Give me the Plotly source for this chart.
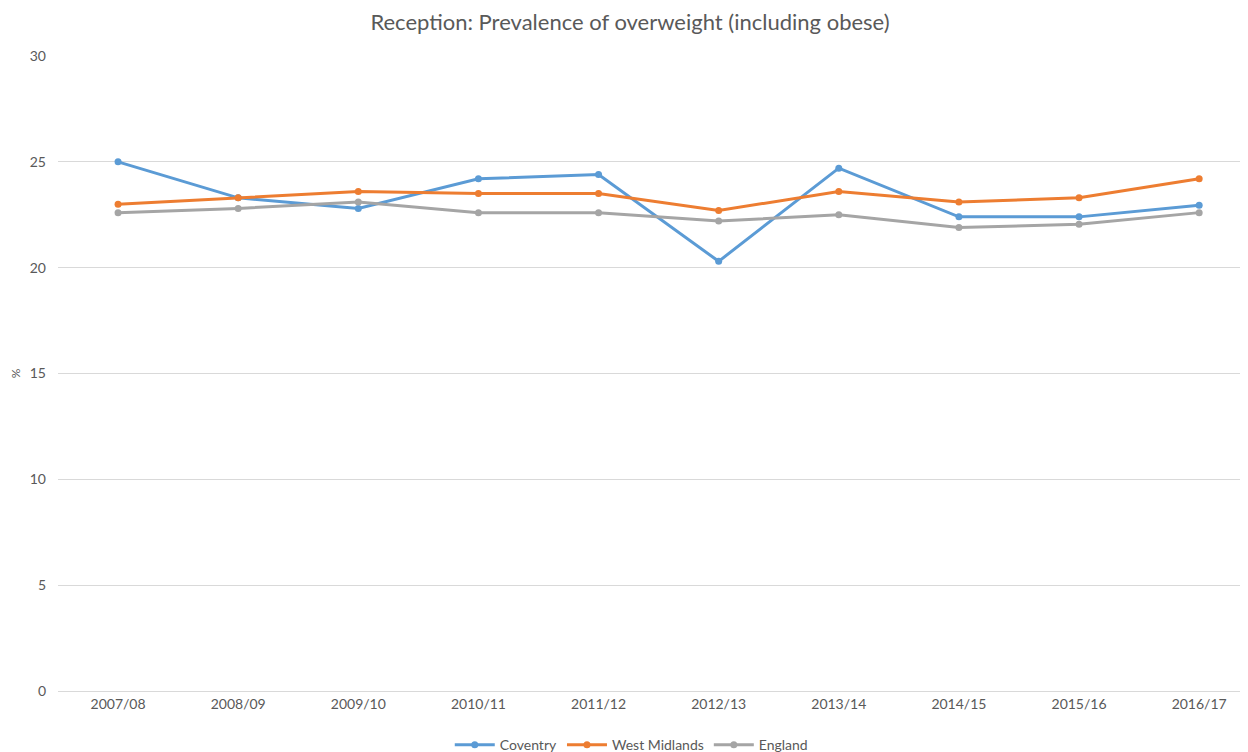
import plotly.graph_objects as go

years = ["2007/08", "2008/09", "2009/10", "2010/11", "2011/12",
         "2012/13", "2013/14", "2014/15", "2015/16", "2016/17"]
coventry = [25.0, 23.3, 22.8, 24.2, 24.4, 20.3, 24.7, 22.4, 22.4, 22.95]
west_midlands = [23.0, 23.3, 23.6, 23.5, 23.5, 22.7, 23.6, 23.1, 23.3, 24.2]
england = [22.6, 22.8, 23.1, 22.6, 22.6, 22.2, 22.5, 21.9, 22.05, 22.6]
y_ticks = [0, 5, 10, 15, 20, 25, 30]

series = [("Coventry", coventry, "#5B9BD5"),
          ("West Midlands", west_midlands, "#ED7D31"),
          ("England", england, "#A5A5A5")]

fig = go.Figure()
for name, vals, col in series:
    fig.add_trace(go.Scatter(
        x=years, y=vals, name=name, mode="lines+markers",
        line=dict(color=col, width=3),
        marker=dict(color=col, size=7),
    ))

font_family = "Lato, 'Open Sans', sans-serif"
fig.update_layout(
    width=1248, height=752,
    paper_bgcolor="white", plot_bgcolor="white",
    margin=dict(l=50, r=16, t=48, b=69, autoexpand=False),
    font=dict(family=font_family, color="#595959", size=14),
    title=dict(text="Reception: Prevalence of overweight (including obese)",
               x=0.4984, xanchor="center", y=0.981, yanchor="middle",
               font=dict(size=22, color="#595959", family=font_family)),
    showlegend=True,
    legend=dict(orientation="h", x=0.485, xanchor="center", y=-0.06, yanchor="top",
                font=dict(size=14, color="#595959"), itemwidth=40,
                tracegroupgap=0),
    xaxis=dict(type="category", range=[-0.5, 9.34], showgrid=False,
               showline=True, linecolor="#D9D9D9", linewidth=1,
               ticks="", tickfont=dict(size=14, color="#595959"),
               zeroline=False, automargin=False),
    yaxis=dict(range=[0, 30], tickvals=y_ticks, showgrid=True,
               gridcolor="#D9D9D9", gridwidth=1, zeroline=False,
               showline=False, ticks="", ticklabelstandoff=11,
               tickfont=dict(size=14, color="#595959"), automargin=False,
               title=dict(text="%", font=dict(size=12, color="#595959"), standoff=8)),
)

fig.write_html("out.html")
